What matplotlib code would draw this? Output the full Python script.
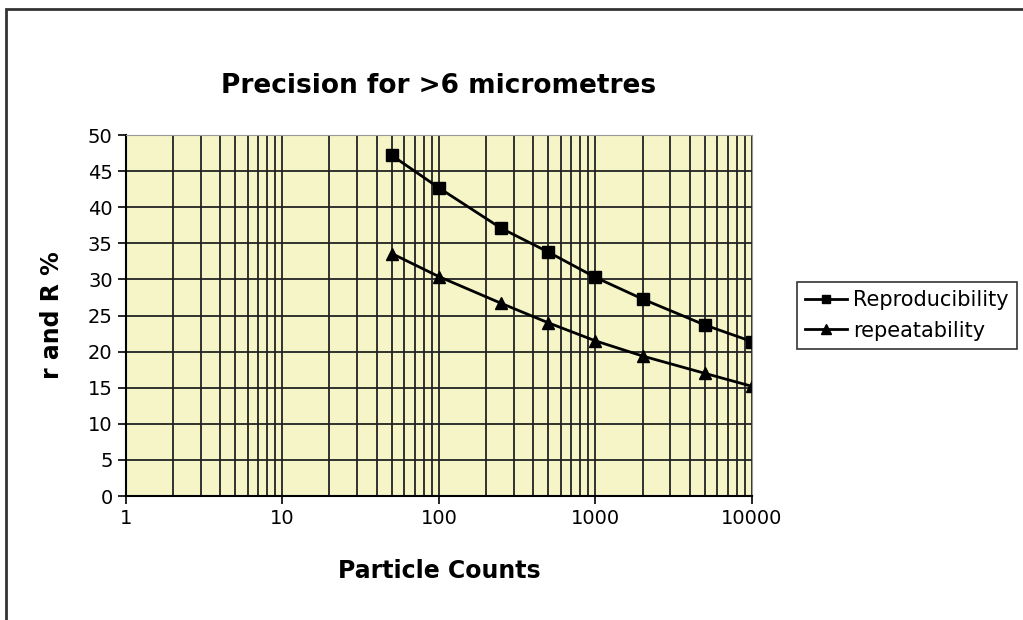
import matplotlib
matplotlib.use("Agg")
from matplotlib import pyplot as plt
from matplotlib.patches import Rectangle
from matplotlib.ticker import LogLocator, FixedLocator, NullFormatter

counts = [50, 100, 250, 500, 1000, 2000, 5000, 10000]
reproducibility = [47.2, 42.7, 37.1, 33.8, 30.3, 27.3, 23.7, 21.4]
repeatability = [33.6, 30.4, 26.7, 24.0, 21.5, 19.4, 17.0, 15.2]

x_ticks = [1, 10, 100, 1000, 10000]
x_labels = ["1", "10", "100", "1000", "10000"]
y_ticks = list(range(0, 55, 5))

fig = plt.figure(figsize=(10.23, 6.2), dpi=100)
ax = fig.add_axes([0.123, 0.2, 0.612, 0.582])
ax.set_facecolor("#f6f5c8")

ax.plot(counts, reproducibility, color="black", lw=2, marker="s", ms=8,
        label="Reproducibility")
ax.plot(counts, repeatability, color="black", lw=2, marker="^", ms=9,
        label="repeatability")

ax.set_xscale("log")
ax.set_xlim(1, 10000)
ax.set_ylim(0, 50)
ax.xaxis.set_major_locator(FixedLocator(x_ticks))
ax.set_xticklabels(x_labels)
ax.xaxis.set_minor_locator(LogLocator(base=10, subs=range(2, 10)))
ax.xaxis.set_minor_formatter(NullFormatter())
ax.set_yticks(y_ticks)

ax.grid(True, which="both", color="#222222", lw=1.3)
ax.set_axisbelow(True)
ax.tick_params(axis="both", which="major", labelsize=14, length=6, width=1.2, direction="out")
ax.tick_params(axis="x", which="minor", length=0)
for s in ["top", "right"]:
    ax.spines[s].set_color("#999999")
for s in ["left", "bottom"]:
    ax.spines[s].set_linewidth(1.5)

ax.set_title("Precision for >6 micrometres", fontsize=19, fontweight="bold", pad=30)
ax.set_xlabel("Particle Counts", fontsize=17, fontweight="bold", labelpad=22)
ax.set_ylabel("r and R %", fontsize=17, fontweight="bold", labelpad=17)

# legend marker sizes a bit smaller than in the plot
leg = ax.legend(loc="center left", bbox_to_anchor=(1.055, 0.5), fontsize=15,
                frameon=True, fancybox=False, edgecolor="black",
                handlelength=2.0, handletextpad=0.3, borderpad=0.4,
                labelspacing=0.5, markerscale=0.8)
leg.get_frame().set_linewidth(1.2)

fig.patches.append(Rectangle((0.006, -0.02), 1.02, 1.006, transform=fig.transFigure,
                             fill=False, edgecolor="#333333", lw=2))

fig.savefig("out.png", dpi=100)
